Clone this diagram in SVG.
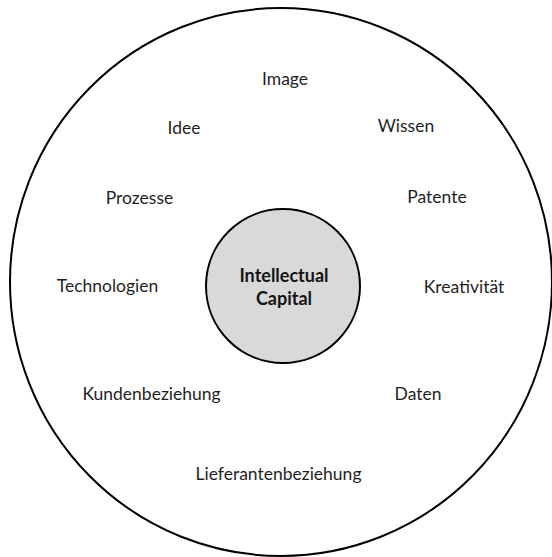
<svg xmlns="http://www.w3.org/2000/svg" width="552" height="557" viewBox="0 0 552 557">
  <style>
    .ring { fill: #ffffff; stroke: #000000; stroke-width: 2; }
    .core { fill: #d9d9d9; stroke: #000000; stroke-width: 2; }
    .lbl { font-family: Lato, "Open Sans", "Liberation Sans", sans-serif; font-size: 17.5px; fill: #1f1f1f; text-anchor: middle; }
    .title { font-family: Lato, "Open Sans", "Liberation Sans", sans-serif; font-size: 18px; font-weight: bold; fill: #141414; text-anchor: middle; }
  </style>
  <rect width="552" height="557" fill="#ffffff"/>
  <g id="outer-ring">
    <ellipse class="ring" cx="281" cy="282" rx="271" ry="274"/>
  </g>
  <g id="core">
    <circle class="core" cx="283" cy="286" r="77"/>
    <text class="title" x="284" y="282">Intellectual</text>
    <text class="title" x="284" y="305">Capital</text>
  </g>
  <g id="image"><text class="lbl" x="285" y="85">Image</text></g>
  <g id="idee"><text class="lbl" x="184" y="134">Idee</text></g>
  <g id="wissen"><text class="lbl" x="406" y="132">Wissen</text></g>
  <g id="prozesse"><text class="lbl" x="139.5" y="204">Prozesse</text></g>
  <g id="patente"><text class="lbl" x="437" y="203">Patente</text></g>
  <g id="technologien"><text class="lbl" x="107.5" y="292">Technologien</text></g>
  <g id="kreativitaet"><text class="lbl" x="464" y="293">Kreativität</text></g>
  <g id="kundenbeziehung"><text class="lbl" x="151.5" y="400">Kundenbeziehung</text></g>
  <g id="daten"><text class="lbl" x="418" y="400">Daten</text></g>
  <g id="lieferantenbeziehung"><text class="lbl" x="278.5" y="480">Lieferantenbeziehung</text></g>
</svg>
